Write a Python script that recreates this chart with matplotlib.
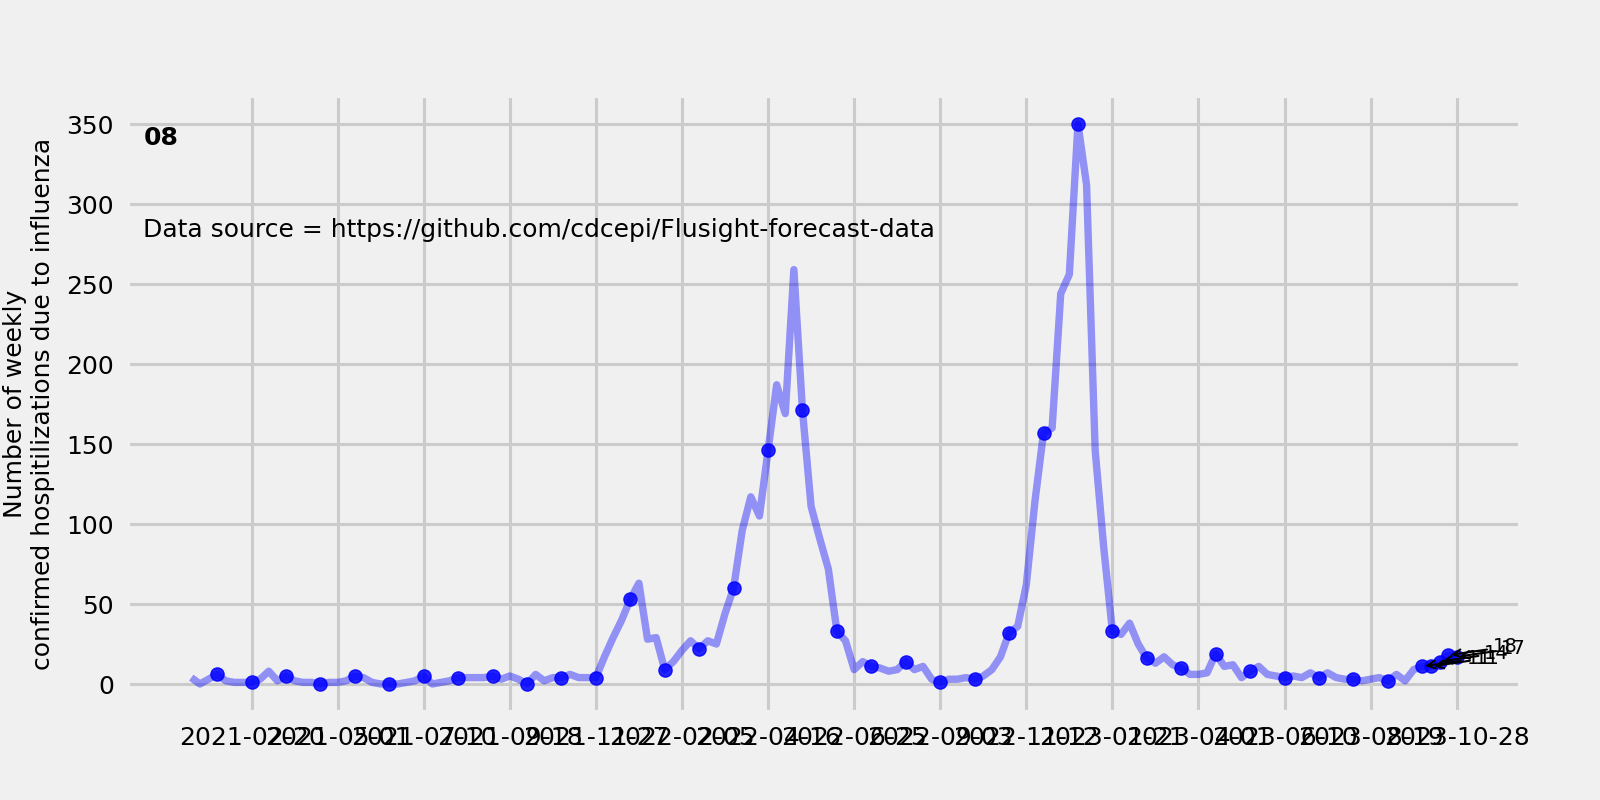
import pandas as pd
import numpy as np
import matplotlib
matplotlib.use('Agg')
import matplotlib.pyplot as plt

# weekly confirmed flu hospitalizations, location 08
start_date = '2021-01-02'
hosp = [4, 0, 3, 6, 2, 1, 1, 1, 3, 8, 2, 5, 2, 1, 1, 0,
        1, 1, 2, 5, 4, 1, 0, 0, 0, 1, 2, 5, 0, 1, 2, 4,
        4, 4, 4, 5, 3, 5, 3, 0, 6, 2, 4, 4, 6, 4, 4, 4,
        17, 29, 40, 53, 63, 28, 29, 9, 14, 21, 27, 22, 27, 25, 44, 60,
        96, 117, 105, 146, 187, 169, 259, 171, 111, 91, 72, 33, 27, 9, 14, 11,
        10, 8, 9, 14, 9, 11, 3, 1, 3, 3, 4, 3, 5, 9, 17, 32,
        36, 62, 114, 157, 160, 244, 256, 350, 312, 146, 85, 33, 31, 38, 25, 16,
        13, 17, 12, 10, 6, 6, 7, 19, 11, 12, 4, 8, 11, 6, 5, 4,
        5, 4, 7, 4, 7, 4, 3, 3, 2, 3, 4, 2, 6, 2, 9, 11,
        11, 14, 18, 17]
# last weeks that get labels
n_annot = 5

tick_labels = ['2021-02-20', '2021-05-01', '2021-07-10', '2021-09-18', '2021-11-27',
               '2022-02-05', '2022-04-16', '2022-06-25', '2022-09-03', '2022-11-12',
               '2023-01-21', '2023-04-01', '2023-06-10', '2023-08-19', '2023-10-28']

dates = pd.date_range(start_date, periods=len(hosp), freq='7D')
vals = np.array(hosp)

plt.style.use('fivethirtyeight')
plt.rcParams['font.family'] = ['DejaVu Sans']

fig, ax = plt.subplots(figsize=(16, 8), dpi=100)
fig.subplots_adjust(left=0.08, right=0.95, bottom=0.11, top=0.88)

ax.plot(dates, vals, color='blue', alpha=0.4, linewidth=5.3)

# dots every 4 weeks plus the last few
idx = list(range(3, len(vals), 4))
idx = sorted(set(idx + list(range(len(vals) - n_annot, len(vals)))))
ax.plot(dates[idx], vals[idx], 'o', color='blue', alpha=0.85, markersize=9.5)

for i in range(len(vals) - n_annot, len(vals)):
    ax.annotate(str(vals[i]), xy=(dates[i], vals[i]), xytext=(32, 2),
                textcoords='offset points', fontsize=14,
                arrowprops=dict(arrowstyle='->', color='black', lw=1.5))

ax.set_xticks(pd.to_datetime(tick_labels))
ax.set_xticklabels(tick_labels)
ax.set_yticks(np.arange(0, 351, 50))
ax.tick_params(labelsize=18, pad=10)
ax.grid(True, color='#cbcbcb', linewidth=2.2)

ax.set_ylabel('Number of weekly\nconfirmed hospitilizations due to influenza',
              fontsize=18, labelpad=8)
ax.text(0.011, 0.932, '08', transform=ax.transAxes, fontsize=18,
        fontweight='bold', va='center')
ax.text(0.011, 0.782, 'Data source = https://github.com/cdcepi/Flusight-forecast-data',
        transform=ax.transAxes, fontsize=18, va='center')

fig.savefig('out.png', dpi=100, facecolor='#f0f0f0')
